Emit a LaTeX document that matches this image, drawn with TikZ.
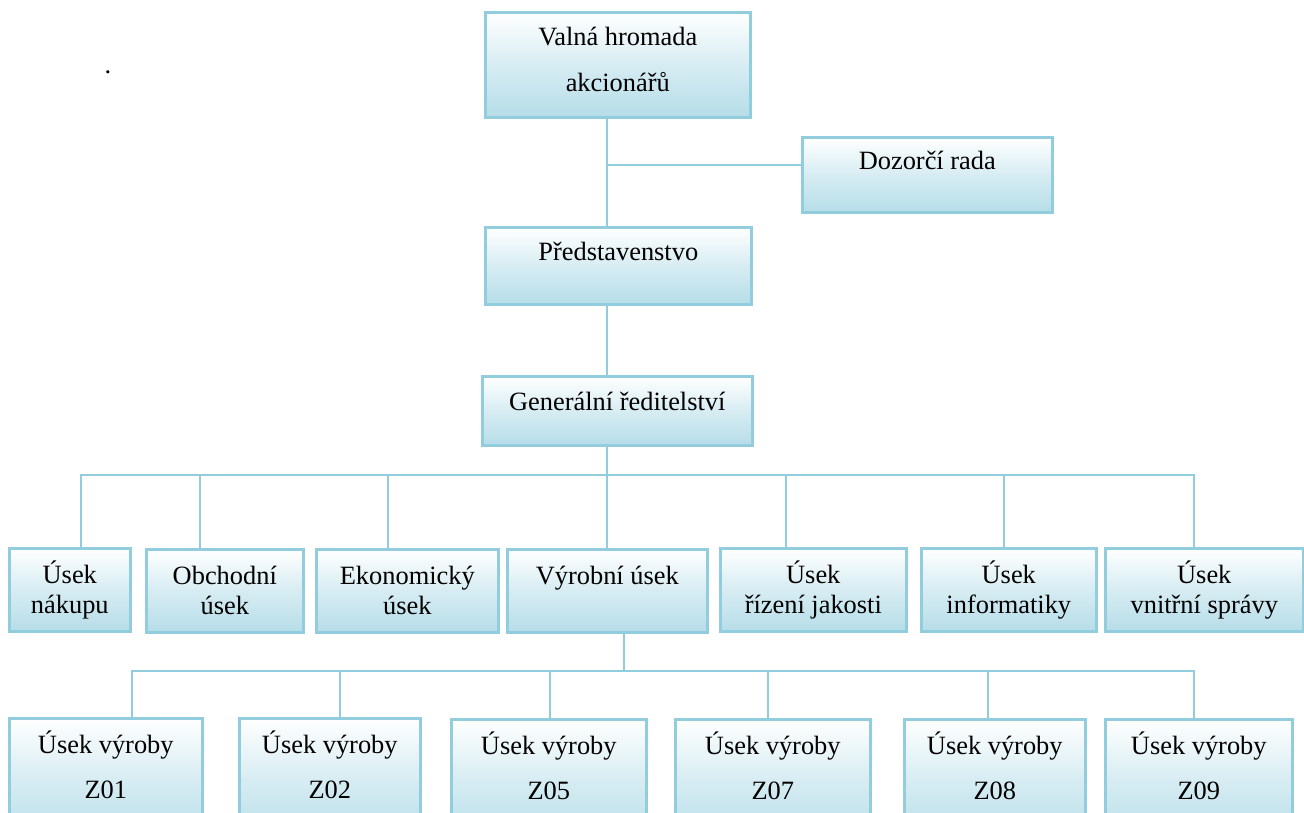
\documentclass[tikz,border=0pt]{standalone}
\usepackage{fontspec}
\setmainfont{Liberation Serif}
\definecolor{lineblue}{RGB}{146,205,221}
\definecolor{fillblue}{RGB}{182,221,232}
\tikzset{
  box/.style={rectangle, draw=lineblue, line width=2.6pt, inner sep=0pt,
    top color=white, bottom color=fillblue, middle color=white!45!fillblue,
    anchor=north west},
  txt/.style={anchor=base, inner sep=0pt, font=\fontsize{26.4}{30}\selectfont},
  conn/.style={draw=lineblue, line width=2.6pt},
}
\newcommand{\bx}[5]{%
  \node[box, minimum width={(#4-#2)*1pt}, minimum height={(#5-#3)*1pt}] (#1) at (#2,#3) {};}
\begin{document}
\begin{tikzpicture}[x=1pt,y=-1pt]
\clip (0,0) rectangle (1304,813);
\fill[white] (0,0) rectangle (1304,813);

% boxes
\bx{v}{484}{11}{749}{116}
\bx{d}{801}{136}{1051}{211}
\bx{p}{484}{226}{750}{303}
\bx{g}{481}{375}{751}{444}
\bx{n1}{8}{547}{129}{630}
\bx{n2}{145}{548}{302}{631}
\bx{n3}{315}{548}{497}{631}
\bx{n4}{506}{548}{706}{631}
\bx{n5}{719}{547}{905}{630}
\bx{n6}{920}{547}{1095}{630}
\bx{n7}{1104}{547}{1302}{630}
\bx{z1}{8}{717}{201}{840}
\bx{z2}{238}{717}{419}{840}
\bx{z5}{450}{718}{645}{840}
\bx{z7}{674}{718}{869}{840}
\bx{z8}{903}{718}{1084}{840}
\bx{z9}{1104}{718}{1291}{840}

% texts
\node[txt] (dot) at (108,74) {.};
\node[txt] (vt1) at ([yshift=-35pt]v.north) {Valná hromada};
\node[txt] (vt2) at ([yshift=-81pt]v.north) {akcionářů};
\node[txt] (dt) at ([yshift=-34pt]d.north) {Dozorčí rada};
\node[txt] (pt) at ([yshift=-35pt]p.north) {Představenstvo};
\node[txt] (gt) at ([yshift=-35pt]g.north) {Generální ředitelství};

\node[txt] (n1a) at ([yshift=-36pt]n1.north) {Úsek};
\node[txt] (n1b) at ([yshift=-66pt]n1.north) {nákupu};
\node[txt] (n2a) at ([yshift=-36pt]n2.north) {Obchodní};
\node[txt] (n2b) at ([yshift=-66pt]n2.north) {úsek};
\node[txt] (n3a) at ([yshift=-36pt]n3.north) {Ekonomický};
\node[txt] (n3b) at ([yshift=-66pt]n3.north) {úsek};
\node[txt] (n4a) at ([yshift=-36pt]n4.north) {Výrobní úsek};
\node[txt] (n5a) at ([yshift=-36pt]n5.north) {Úsek};
\node[txt] (n5b) at ([yshift=-66pt]n5.north) {řízení jakosti};
\node[txt] (n6a) at ([yshift=-36pt]n6.north) {Úsek};
\node[txt] (n6b) at ([yshift=-66pt]n6.north) {informatiky};
\node[txt] (n7a) at ([yshift=-36pt]n7.north) {Úsek};
\node[txt] (n7b) at ([yshift=-66pt]n7.north) {vnitřní správy};

\foreach \z/\lab in {z1/Z01,z2/Z02,z5/Z05,z7/Z07,z8/Z08,z9/Z09}{
  \node[txt] (\z a) at ([yshift=-36pt]\z.north) {Úsek výroby};
  \node[txt] (\z b) at ([yshift=-81pt]\z.north) {\lab};
}

% junction coordinates
\coordinate (j0) at (607,165);
\coordinate (b1) at (607,475);
\coordinate (c1) at (81,475);
\coordinate (c2) at (200,475);
\coordinate (c3) at (388,475);
\coordinate (c5) at (786,475);
\coordinate (c6) at (1004,475);
\coordinate (c7) at (1194,475);
\coordinate (b2) at (624,671);
\coordinate (e1) at (132,671);
\coordinate (e2) at (340,671);
\coordinate (e5) at (550,671);
\coordinate (e7) at (768,671);
\coordinate (e8) at (988,671);
\coordinate (e9) at (1194,671);

% connectors
\draw[conn] (v.south -| j0) -- (p.north -| j0);
\draw[conn] (j0) -- (d.west |- j0);
\draw[conn] (p.south -| j0) -- (g.north -| j0);
\draw[conn] (g.south -| b1) -- (n4.north -| b1);
\draw[conn,line cap=rect] (c1) -- (c7);
\foreach \c/\n in {c1/n1,c2/n2,c3/n3,c5/n5,c6/n6,c7/n7}{
  \draw[conn] (\c) -- (\n.north -| \c);
}
\draw[conn] (n4.south -| b2) -- (b2);
\draw[conn,line cap=rect] (e1) -- (e9);
\foreach \c/\n in {e1/z1,e2/z2,e5/z5,e7/z7,e8/z8,e9/z9}{
  \draw[conn] (\c) -- (\n.north -| \c);
}
\end{tikzpicture}
\end{document}
